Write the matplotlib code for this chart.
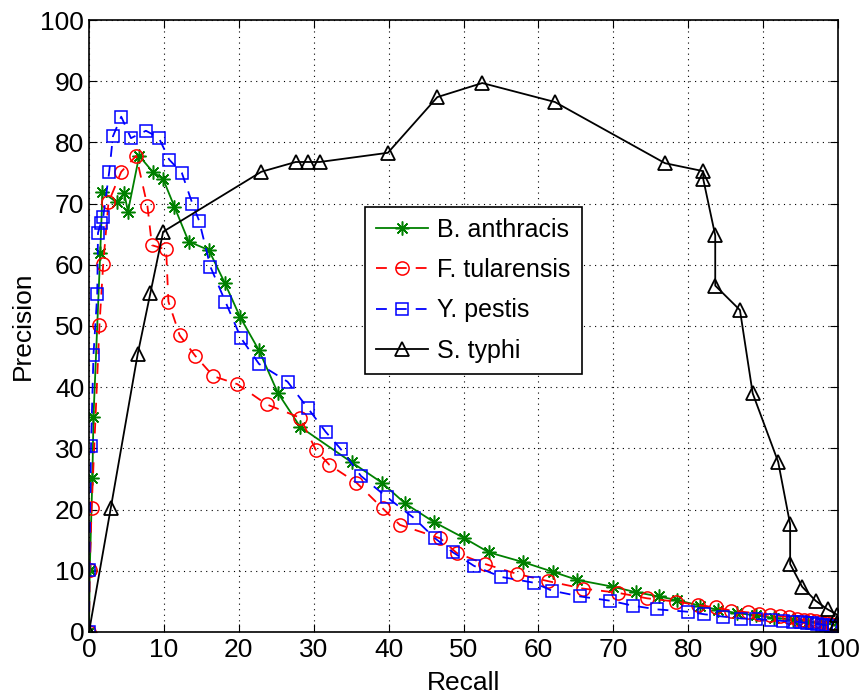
import numpy as np
import matplotlib.pyplot as plt

plt.rcParams['font.family'] = ['Liberation Sans', 'DejaVu Sans']

# B. anthracis
ba_recall = [0, 0.1, 0.45, 0.6, 1.5, 1.8, 3.7, 4.7, 5.2, 6.7, 8.5, 9.9, 11.4, 13.3, 16.0,
             18.1, 20.2, 22.7, 25.2, 28.2, 35.1, 39.1, 42.2, 46.0, 50.0, 53.4, 58.0, 62.0,
             65.2, 69.9, 73.0, 76.1, 78.5, 81.6, 84.0, 86.5, 89.0, 91.5, 94.0, 96.0, 98.0, 100]
ba_prec = [0, 10.1, 25.1, 35.2, 61.9, 71.9, 70.2, 71.7, 68.7, 77.8, 75.2, 74.0, 69.5, 63.8, 62.4,
           57.1, 51.4, 46.0, 39.1, 33.5, 27.7, 24.4, 21.0, 18.0, 15.4, 13.0, 11.4, 9.8,
           8.5, 7.4, 6.5, 5.8, 5.2, 4.3, 3.6, 3.1, 2.7, 2.3, 2.0, 1.7, 1.4, 1.1]

# F. tularensis
ft_recall = [0, 0.1, 0.35, 1.4, 1.9, 2.6, 4.3, 6.3, 7.8, 8.4, 10.3, 10.6, 12.1, 14.2, 16.6,
             19.8, 23.7, 28.2, 30.3, 32.1, 35.7, 39.2, 41.5, 46.9, 49.1, 52.9, 57.1, 61.3,
             65.9, 70.6, 74.5, 78.4, 81.3, 83.7, 85.7, 88.0, 89.4, 90.9, 92.3, 93.5, 94.5,
             95.5, 96.3, 97.0, 97.7, 98.4, 99.0, 99.5, 100]
ft_prec = [0, 10.1, 20.2, 50.2, 60.2, 70.2, 75.2, 77.8, 69.6, 63.2, 62.5, 54.0, 48.5, 45.1, 41.8,
           40.5, 37.2, 35.0, 29.7, 27.3, 24.4, 20.2, 17.5, 15.3, 12.9, 11.1, 9.5, 8.3,
           7.1, 6.4, 5.5, 4.95, 4.4, 4.0, 3.5, 3.2, 2.9, 2.8, 2.6, 2.4, 2.2,
           2.0, 1.9, 1.8, 1.6, 1.5, 1.3, 1.2, 1.0]

# Y. pestis
yp_recall = [0, 0.05, 0.27, 0.6, 1.1, 1.2, 1.6, 1.9, 2.7, 3.2, 4.3, 5.6, 7.6, 9.3, 10.7, 12.4,
             13.8, 14.7, 16.2, 18.2, 20.3, 22.7, 26.5, 29.2, 31.6, 33.6, 36.3, 39.8, 43.4,
             46.2, 48.6, 51.4, 55.0, 59.4, 61.8, 65.6, 69.6, 72.6, 75.8, 80.0, 82.1, 84.7,
             87.1, 89.1, 91.1, 92.6, 94.0, 95.0, 95.8, 96.5, 97.2, 97.8, 98.4, 99.0, 99.5, 100]
yp_prec = [0, 10.1, 30.4, 45.3, 55.2, 65.2, 66.9, 67.8, 75.2, 81.0, 84.2, 80.7, 81.9, 80.8, 77.2, 75.0,
           70.0, 67.2, 59.7, 54.0, 48.0, 43.8, 40.9, 36.6, 32.7, 29.9, 25.5, 22.0, 18.6,
           15.3, 13.0, 10.8, 9.0, 8.05, 6.75, 5.8, 5.1, 4.3, 3.7, 3.3, 2.9, 2.5,
           2.2, 2.1, 1.96, 1.8, 1.7, 1.6, 1.5, 1.4, 1.3, 1.2, 1.1, 1.0, 0.9, 0.8]

# S. typhi
st_recall = [0, 2.9, 6.5, 8.2, 9.9, 23.0, 27.6, 29.2, 30.8, 39.9, 46.5, 52.5, 62.2, 76.9,
             82.0, 82.0, 83.6, 83.6, 86.9, 88.6, 92.0, 93.6, 93.6, 95.2, 97.0, 98.6, 99.9, 99.9]
st_prec = [0, 20.2, 45.4, 55.4, 65.4, 75.2, 76.8, 76.8, 76.8, 78.3, 87.4, 89.7, 86.6, 76.6,
           75.3, 74.0, 64.8, 56.6, 52.6, 39.0, 27.8, 17.6, 11.1, 7.4, 5.1, 3.7, 2.8, 1.4]

fig = plt.figure(figsize=(8.64, 6.97), dpi=100)
ax = fig.add_axes([0.103, 0.0933, 0.867, 0.878])

# matlab-like asterisk: 8 spokes
ax.plot(ba_recall, ba_prec, color='#008000', linestyle='-', marker=(8, 2, 0), markersize=10,
        markeredgewidth=1.1, linewidth=1.3, label='B. anthracis')
ax.plot(ft_recall, ft_prec, color='r', linestyle=(0, (6, 5)), marker='o', markersize=9.5,
        markerfacecolor='none', markeredgewidth=1.1, linewidth=1.3, label='F. tularensis')
ax.plot(yp_recall, yp_prec, color='b', linestyle=(0, (6, 5)), marker='s', markersize=8,
        markerfacecolor='none', markeredgewidth=1.1, linewidth=1.3, label='Y. pestis')
ax.plot(st_recall, st_prec, color='k', linestyle='-', marker='^', markersize=10,
        markerfacecolor='none', markeredgewidth=1.3, linewidth=1.3, label='S. typhi')

ax.set_xlim(0, 100)
ax.set_ylim(0, 100)
ax.set_xticks(np.arange(0, 101, 10))
ax.set_yticks(np.arange(0, 101, 10))
ax.grid(True, linestyle=(0, (1, 4)), color='k', linewidth=0.8)
ax.tick_params(direction='in', top=True, right=True, labelsize=19, length=6)
ax.tick_params(axis='x', pad=4)
for s in ax.spines.values():
    s.set_linewidth(1.2)

ax.set_xlabel('Recall', fontsize=19, labelpad=7)
ax.set_ylabel('Precision', fontsize=19, labelpad=4)

leg = ax.legend(loc='upper left', bbox_to_anchor=(0.368, 0.695), borderaxespad=0,
                fontsize=18, frameon=True, fancybox=False, edgecolor='k', framealpha=1,
                handlelength=2.1, borderpad=0.45, labelspacing=0.65, handletextpad=0.35)
leg.get_frame().set_linewidth(1.2)

fig.savefig('out.png', dpi=100)
